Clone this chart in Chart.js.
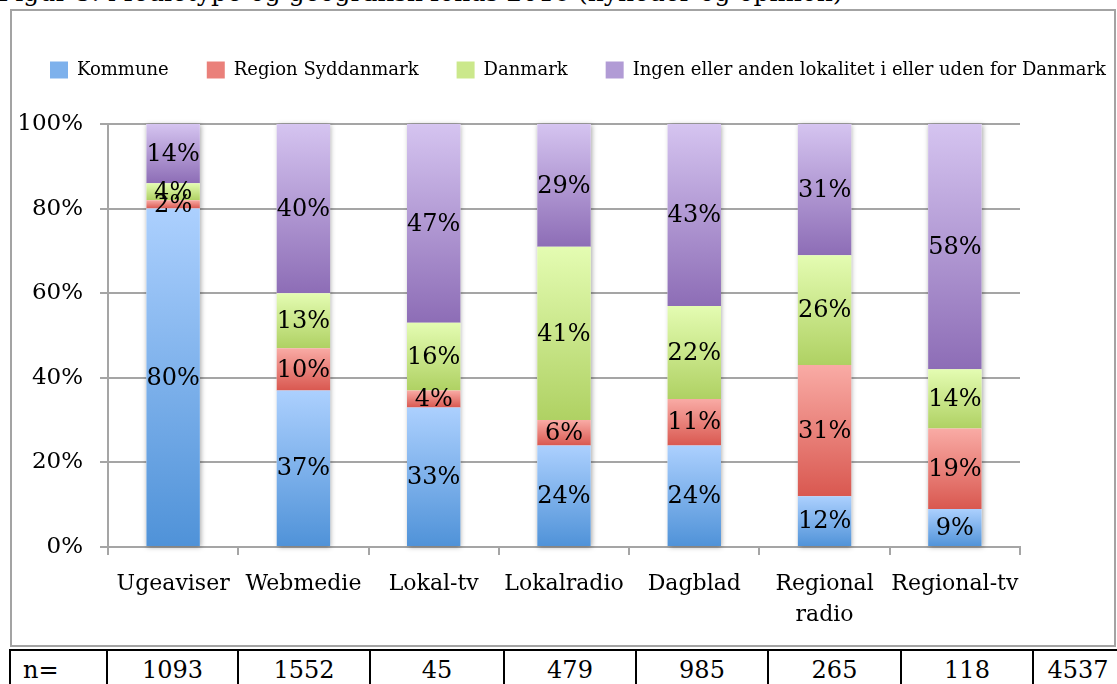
<!DOCTYPE html>
<html>
<head>
<meta charset="utf-8">
<script src="https://cdn.jsdelivr.net/npm/chart.js@4/dist/chart.umd.min.js"></script>
<style>
  body { margin: 0; background: #fff; width: 1117px; height: 684px; overflow: hidden; position: relative; font-family: "DejaVu Serif", serif; }
  #title { position: absolute; left: -2px; top: -21px; font-size: 25px; line-height: 28px; white-space: nowrap; color: #000; }
  #frame { position: absolute; left: 10px; top: 9px; width: 1106px; height: 638px; border: 2px solid #a3a3a3; box-sizing: border-box; }
  #wrap { position: absolute; left: 12px; top: 11px; width: 1103px; height: 635px; }
  #ntab { position: absolute; left: 9px; top: 649px; border-collapse: collapse; table-layout: fixed; font-size: 24px; }
  #ntab td { border: 2px solid #000; padding: 5px 0 0 0; height: 40px; vertical-align: top; text-align: center; white-space: nowrap; overflow: hidden; }
  #ntab td:first-child { text-align: left; padding-left: 12px; }
</style>
</head>
<body>
<div id="title">Figur 3: Medietype og geografisk fokus 2016 (nyheder og opinion)</div>
<div id="frame"></div>
<div id="wrap"><canvas id="mediaChart"></canvas></div>
<table id="ntab"><colgroup id="ncols"></colgroup><tr id="nrow"></tr></table>
<script>
// data
const mediaTypes = ['Ugeaviser', 'Webmedie', 'Lokal-tv', 'Lokalradio', 'Dagblad', ['Regional', 'radio'], 'Regional-tv'];
const kommune = [80, 37, 33, 24, 24, 12, 9];
const regionSyd = [2, 10, 4, 6, 11, 31, 19];
const danmark = [4, 13, 16, 41, 22, 26, 14];
const ingen = [14, 40, 47, 29, 43, 31, 58];
const seriesNames = ['Kommune', 'Region Syddanmark', 'Danmark', 'Ingen eller anden lokalitet i eller uden for Danmark'];
const yTicks = [0, 20, 40, 60, 80, 100];
const nLabel = 'n=';
const nValues = [1093, 1552, 45, 479, 985, 265, 118, 4537];

// n= tabel under grafen
const colWidths = [97, 131, 132, 134, 132, 132, 133, 132, 90];
const cols = document.getElementById('ncols');
const row = document.getElementById('nrow');
let tableWidth = 0;
[nLabel].concat(nValues).forEach((v, i) => {
    const col = document.createElement('col');
    col.style.width = colWidths[i] + 'px';
    cols.appendChild(col);
    tableWidth += colWidths[i];
    const td = document.createElement('td');
    td.textContent = v;
    row.appendChild(td);
});
document.getElementById('ntab').style.width = tableWidth + 'px';

const palette = [
    { top: '#acd0fe', bottom: '#4f92d8', mid: '#7eb1ec' },
    { top: '#f9aba5', bottom: '#d95850', mid: '#ea807a' },
    { top: '#e4fcb2', bottom: '#afd163', mid: '#cbe88b' },
    { top: '#d5c4f0', bottom: '#8d6db6', mid: '#b19bd5' }
];
const allSeries = [kommune, regionSyd, danmark, ingen];
const serif = '"DejaVu Serif", serif';

function segmentGradient(d) {
    return function (context) {
        const chart = context.chart;
        const yScale = chart.scales.y;
        if (!chart.chartArea || !yScale || context.dataIndex === undefined) return palette[d].mid;
        const i = context.dataIndex;
        let base = 0;
        for (let k = 0; k < d; k++) base += allSeries[k][i];
        const top = yScale.getPixelForValue(base + allSeries[d][i]);
        const bottom = yScale.getPixelForValue(base);
        if (!isFinite(top) || !isFinite(bottom) || top === bottom) return palette[d].mid;
        const g = chart.ctx.createLinearGradient(0, top, 0, bottom);
        g.addColorStop(0, palette[d].top);
        g.addColorStop(1, palette[d].bottom);
        return g;
    };
}

// skygge bag hver stak + procent-tekst i segmenterne
const stackDecor = {
    id: 'stackDecor',
    afterInit(chart) {
        const lg = chart.legend;
        if (lg) {
            const origFit = lg.fit;
            lg.fit = function () {
                this.maxWidth = chart.width + 100;   // en linje, som i originalen
                origFit.call(this);
                this.height = 101;
            };
        }
    },
    afterLayout(chart) {
        // legenden maa gerne gaa ud over plotomraadets hoejre kant
        const lg = chart.legend;
        if (lg) {
            lg.right = chart.width + 100;
            lg.width = lg.right - lg.left;
        }
    },
    beforeDatasetsDraw(chart) {
        const ctx = chart.ctx;
        const first = chart.getDatasetMeta(0).data;
        const last = chart.getDatasetMeta(chart.data.datasets.length - 1).data;
        ctx.save();
        ctx.shadowColor = 'rgba(0,0,0,0.35)';
        ctx.shadowBlur = 5;
        ctx.shadowOffsetX = 1;
        ctx.shadowOffsetY = 1;
        ctx.fillStyle = '#fff';
        first.forEach((bar, i) => {
            const w = bar.width;
            const top = last[i].y;
            ctx.fillRect(bar.x - w / 2, top, w, bar.base - top);
        });
        ctx.restore();
    },
    afterDatasetsDraw(chart) {
        const ctx = chart.ctx;
        ctx.save();
        ctx.font = '24px ' + serif;
        ctx.fillStyle = '#000';
        ctx.textAlign = 'center';
        ctx.textBaseline = 'middle';
        chart.data.datasets.forEach((ds, d) => {
            chart.getDatasetMeta(d).data.forEach((bar, i) => {
                ctx.fillText(ds.data[i] + '%', bar.x, (bar.y + bar.base) / 2 + 1);
            });
        });
        ctx.restore();
    }
};

const ctx = document.getElementById('mediaChart').getContext('2d');
new Chart(ctx, {
    type: 'bar',
    data: {
        labels: mediaTypes,
        datasets: allSeries.map((vals, d) => ({
            label: seriesNames[d],
            data: vals,
            backgroundColor: segmentGradient(d),
            borderWidth: 0,
            barPercentage: 0.82,
            categoryPercentage: 0.5
        }))
    },
    options: {
        responsive: true,
        maintainAspectRatio: false,
        animation: false,
        layout: { padding: { top: 12, left: 0, right: 95, bottom: 0 } },
        plugins: {
            tooltip: { enabled: false },
            legend: {
                position: 'top',
                align: 'start',
                labels: {
                    boxWidth: 18,
                    boxHeight: 17,
                    padding: 38,
                    color: '#000',
                    font: { family: serif, size: 18 },
                    generateLabels(chart) {
                        return chart.data.datasets.map((ds, d) => ({
                            text: ds.label,
                            fillStyle: palette[d].mid,
                            strokeStyle: palette[d].mid,
                            lineWidth: 0,
                            hidden: false,
                            datasetIndex: d
                        }));
                    }
                }
            }
        },
        scales: {
            x: {
                stacked: true,
                afterFit(scale) { scale.height = 99; },
                grid: { offset: true, drawOnChartArea: false, drawTicks: true, tickLength: 8, color: '#a5a5a5', lineWidth: 2 },
                border: { color: '#a5a5a5', width: 2 },
                ticks: { color: '#000', padding: 14, maxRotation: 0, autoSkip: false, font: { family: serif, size: 22, lineHeight: 1.4 } }
            },
            y: {
                stacked: true,
                min: 0,
                max: 100,
                afterFit(scale) { scale.width = 96; },
                afterBuildTicks(scale) { scale.ticks = yTicks.map(v => ({ value: v })); },
                grid: { color: '#a5a5a5', lineWidth: 2, tickLength: 8 },
                border: { color: '#a5a5a5', width: 2 },
                ticks: { color: '#000', padding: 17, font: { family: serif, size: 23 }, callback: v => v + '%' }
            }
        }
    },
    plugins: [stackDecor]
});
</script>
</body>
</html>
